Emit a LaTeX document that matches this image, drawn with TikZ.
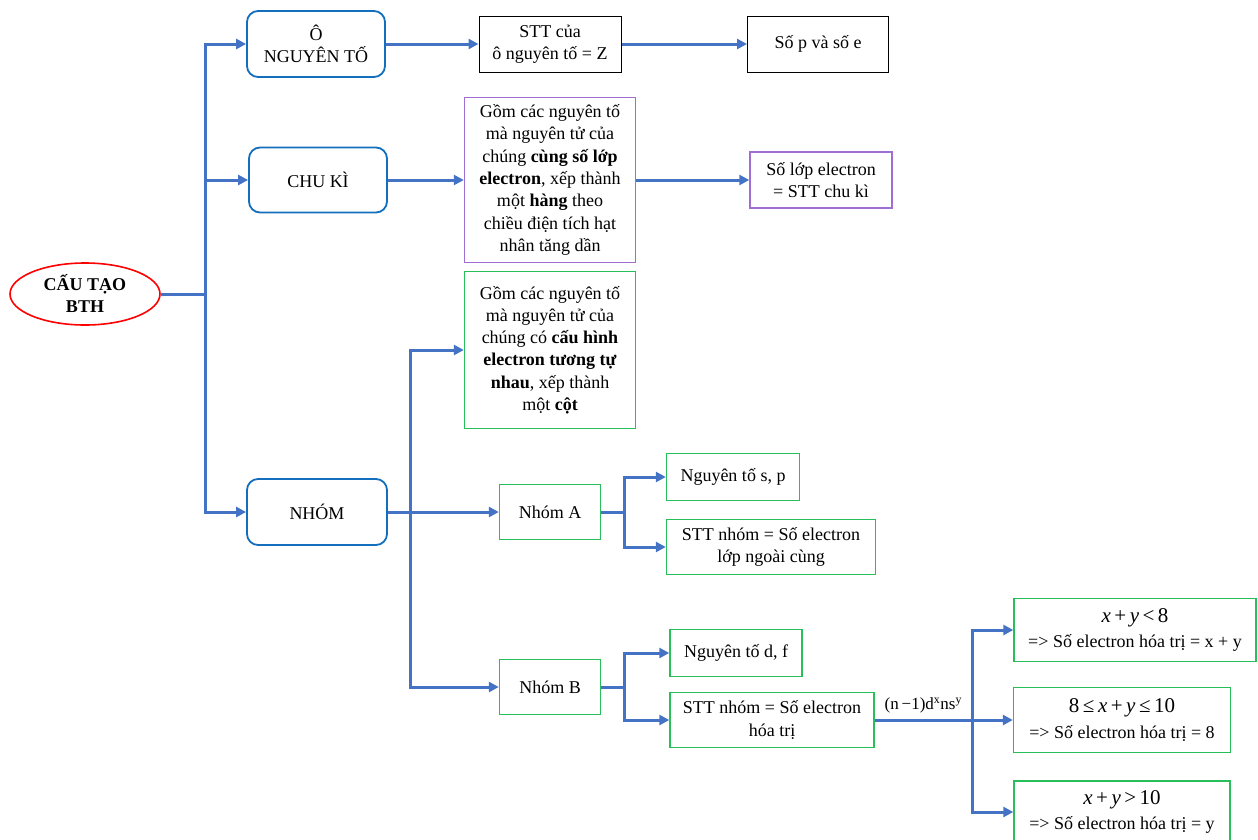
\documentclass[tikz,border=0pt]{standalone}
\usepackage{fontspec}
\setmainfont{Liberation Serif}
\usetikzlibrary{arrows.meta,shapes.geometric}
\definecolor{lnblue}{RGB}{68,114,196}
\definecolor{bxblue}{RGB}{20,110,190}
\definecolor{bxpurple}{RGB}{160,110,210}
\definecolor{bxgreen}{RGB}{40,190,90}
\newcommand{\xy}[1]{{\fontsize{21}{24}\selectfont #1}}
\begin{document}
\begin{tikzpicture}[x=1pt,y=-1pt,
    every node/.style={font=\fontsize{18}{22.3}\selectfont,align=center,inner sep=0pt},
    sz/.style 2 args={minimum width=#1pt,minimum height=#2pt},
    ln/.style={lnblue,line width=3pt},
    arr/.style={ln,-{Triangle[length=10pt,width=10pt]}},
    rbox/.style={draw=bxblue,line width=1.8pt,rounded corners=11pt},
    kbox/.style={draw=black,line width=1pt},
    pbox/.style={draw=bxpurple,line width=1.4pt},
    gbox/.style={draw=bxgreen,line width=1.4pt}]
        \useasboundingbox (0,0) rectangle (1258,839);
        \node (bth) at (85,294) [ellipse,draw=red,line width=1.6pt,sz={150}{62},
            font=\bfseries\fontsize{18}{22}\selectfont] {CẤU TẠO\\BTH};
        \node (o) at (316,44) [rbox,sz={138}{66}] {Ô\\NGUYÊN TỐ};
        \node (ck) at (318,180) [rbox,sz={138}{65}] {CHU KÌ};
        \node (nh) at (317,512) [rbox,sz={140}{66}] {NHÓM};
        \node (z) at (550,44) [kbox,sz={142}{56}] {STT của\\ô nguyên tố = Z};
        \node (pe) at (818,44) [kbox,sz={141}{56}] {Số p và số e};
        \node (ck1) at (550,180) [pbox,sz={171}{165}] {Gồm các nguyên tố\\mà nguyên tử của\\chúng \textbf{cùng số lớp}\\\textbf{electron}, xếp thành\\một \textbf{hàng} theo\\chiều điện tích hạt\\nhân tăng dần};
        \node (ck2) at (821,180) [pbox,sz={142}{56}] {Số lớp electron\\= STT chu kì};
        \node (nh1) at (550,350) [gbox,sz={171}{157}] {Gồm các nguyên tố\\mà nguyên tử của\\chúng có \textbf{cấu hình}\\\textbf{electron tương tự}\\\textbf{nhau}, xếp thành\\một \textbf{cột}};
        \node (na) at (550,512) [gbox,sz={101}{55}] {Nhóm A};
        \node (nb) at (550,687) [gbox,sz={101}{55}] {Nhóm B};
        \node (sp) at (733,477) [gbox,sz={133}{47}] {Nguyên tố s, p};
        \node (sa) at (771,547) [gbox,sz={209}{55}] {STT nhóm = Số electron\\lớp ngoài cùng};
        \node (df) at (736,653) [gbox,sz={132}{47}] {Nguyên tố d, f};
        \node (sb) at (772,720) [gbox,sz={204}{55}] {STT nhóm = Số electron\\hóa trị};
        \node (b1) at (1135,630) [gbox,sz={242}{63}] {\xy{\textit{x}\,+\,\textit{y}\,<\,8}\\[3pt]=> Số electron hóa trị = x + y};
        \node (b2) at (1122,720) [gbox,sz={217}{65}] {\xy{8\,≤\,\textit{x}\,+\,\textit{y}\,≤\,10}\\[3pt]=> Số electron hóa trị = 8};
        \node (b3) at (1122,812) [gbox,sz={216}{62}] {\xy{\textit{x}\,+\,\textit{y}\,>\,10}\\[3pt]=> Số electron hóa trị = y};

        \coordinate (t) at (205,294);
        \coordinate (tn) at (410,512);
        \coordinate (ta) at (624,512);
        \coordinate (tb) at (624,687);
        \coordinate (tc) at (972,720);

        \draw [ln] (bth) -- (t);
        \foreach \n in {o,ck,nh}{
            \draw [arr] (t) |- (\n);
        }
        \draw [arr] (o) -- (z);
        \draw [arr] (z) -- (pe);
        \draw [arr] (ck) -- (ck1);
        \draw [arr] (ck1) -- (ck2);
        \draw [arr] (nh) -- (na);
        \foreach \n in {nh1,nb}{
            \draw [arr] (tn) |- (\n);
        }
        \draw [ln] (na) -- (ta);
        \draw [ln] (nb) -- (tb);
        \foreach \n in {sp,sa}{
            \draw [arr] (ta) |- (\n);
        }
        \foreach \n in {df,sb}{
            \draw [arr] (tb) |- (\n);
        }
        \draw [ln] (sb) -- node [above=5pt,text=black,font=\fontsize{17}{19}\selectfont] (cfg) {(n\,−1)d\textsuperscript{x}ns\textsuperscript{y}} (tc);
        \foreach \n in {b1,b2,b3}{
            \draw [arr] (tc) |- (\n);
        }
\end{tikzpicture}
\end{document}
